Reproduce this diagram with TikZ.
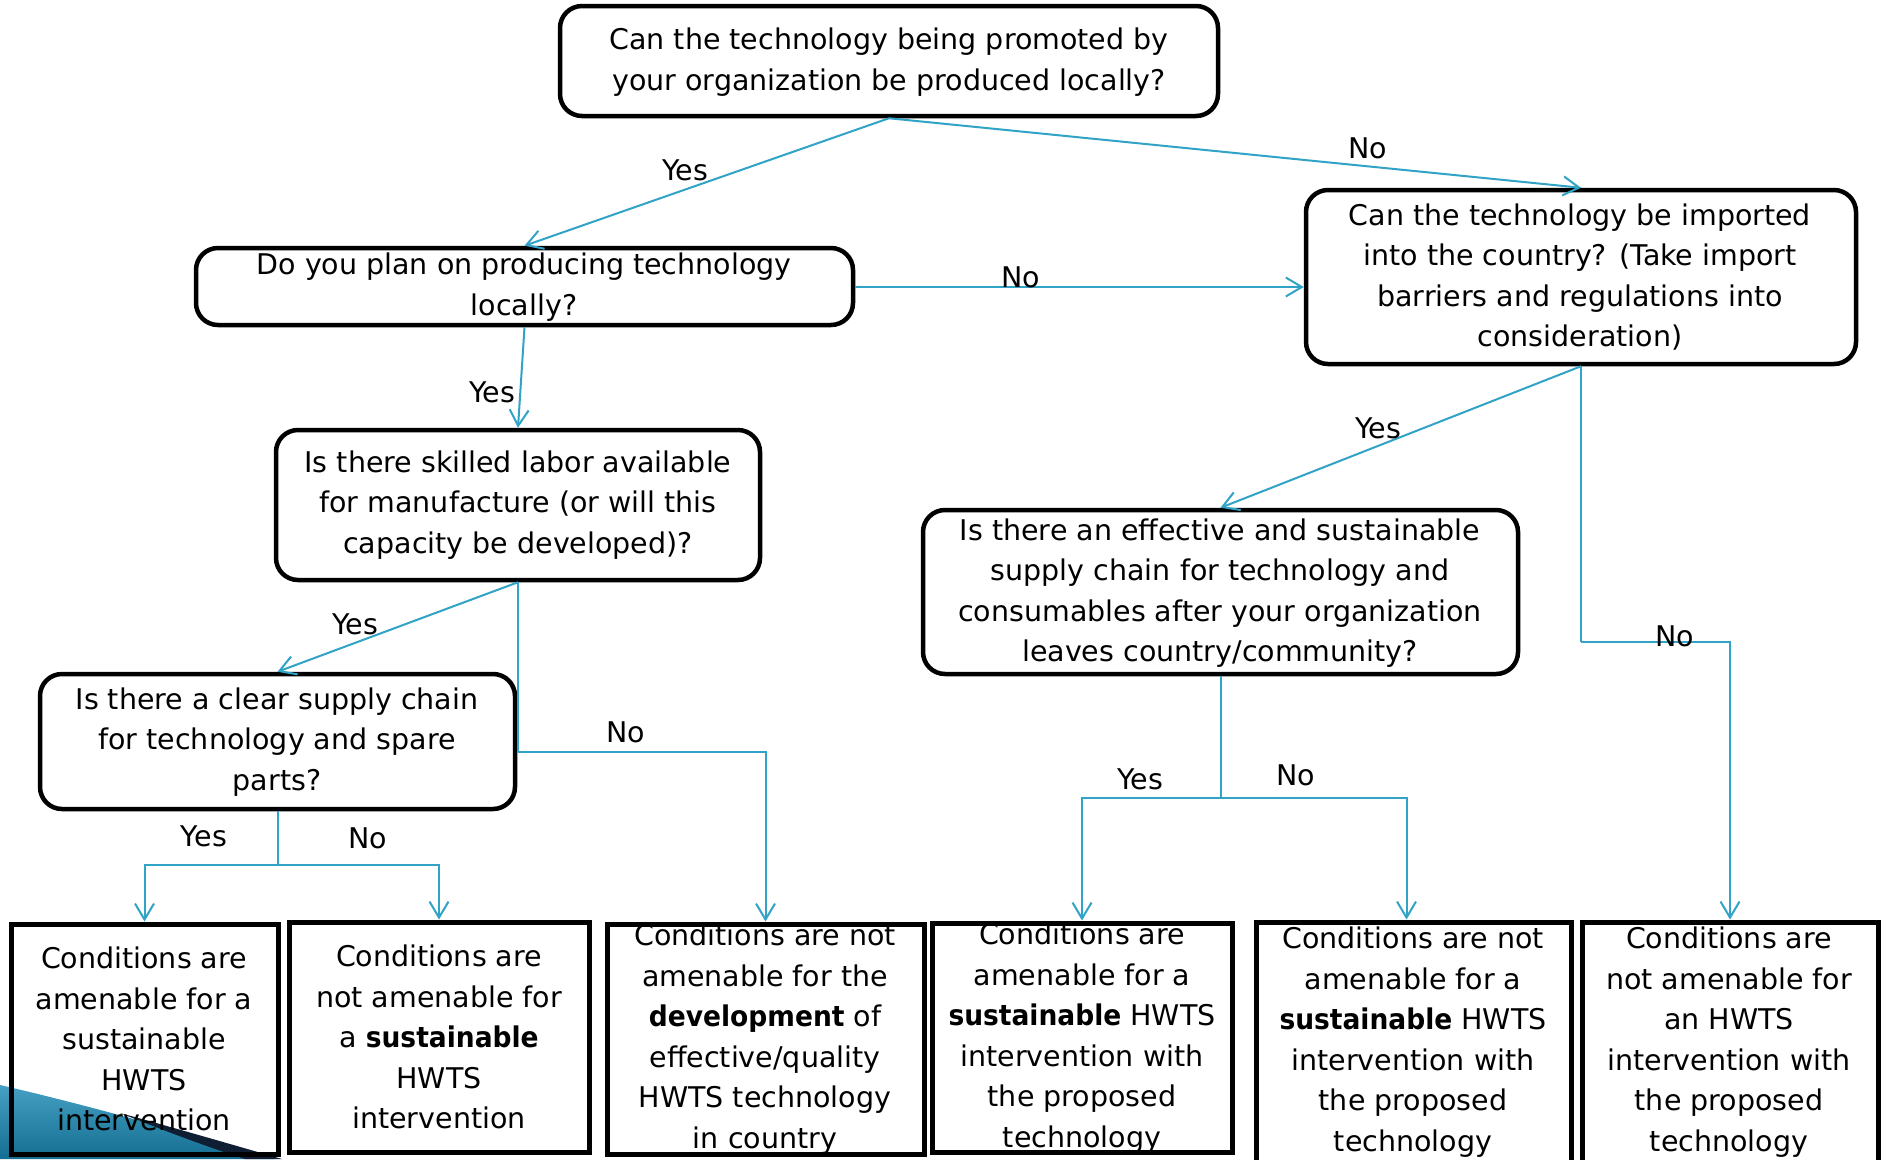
\documentclass[tikz,border=0pt]{standalone}
\usepackage{fontspec}
\setmainfont{DejaVu Sans}[BoldFeatures={FakeStretch=0.93}]
\usetikzlibrary{arrows.meta}
\definecolor{conn}{RGB}{48,163,198}
\definecolor{swA}{RGB}{70,160,195}
\definecolor{swB}{RGB}{20,110,145}
\definecolor{swDark}{RGB}{15,30,50}
\tikzset{
  qbox/.style={draw=black, line width=4.5pt, rounded corners=22pt, inner sep=0pt},
  abox/.style={draw=black, line width=5pt, inner sep=0pt},
  txt/.style={align=center, inner sep=0pt, font=\fontsize{28.5}{40.5}\selectfont},
  lbl/.style={inner sep=0pt, font=\fontsize{28.5}{32}\selectfont},
  arr/.style={draw=conn, line width=2pt, -{Straight Barb[length=16pt,width=19pt,line width=2pt]}},
  ln/.style={draw=conn, line width=2pt}
}
\begin{document}
\begin{tikzpicture}[x=1pt,y=-1pt]
\useasboundingbox (0,0) rectangle (1881,1159);
\clip (0,0) rectangle (1881,1159);
\fill[white] (0,0) rectangle (1881,1159);
% decorative swoosh
\shade[top color=swA, bottom color=swB] (0,1085) .. controls (100,1108) and (190,1135) .. (275,1159) -- (0,1159) -- cycle;
\fill[swDark] (120,1113) .. controls (175,1128) and (230,1144) .. (282,1159) -- (245,1159) .. controls (205,1146) and (165,1131) .. (120,1113) -- cycle;
% question boxes
\node[qbox, minimum width=658pt, minimum height=110pt] (top) at (889,61) {};
\node[qbox, minimum width=657pt, minimum height=77pt] (plan) at (524.5,286.5) {};
\node[qbox, minimum width=550pt, minimum height=174pt] (imp) at (1581,277) {};
\node[qbox, minimum width=484pt, minimum height=150pt] (skill) at (518,505) {};
\node[qbox, minimum width=595pt, minimum height=164pt] (eff) at (1220.5,592) {};
\node[qbox, minimum width=475pt, minimum height=135pt] (clear) at (277.5,741.5) {};
% answer boxes
\node[abox, minimum width=267pt, minimum height=230pt] (b1) at (144.5,1039) {};
\node[abox, minimum width=300pt, minimum height=230pt] (b2) at (439,1037) {};
\node[abox, minimum width=317pt, minimum height=230pt] (b3) at (765.5,1039) {};
\node[abox, minimum width=300pt, minimum height=229pt] (b4) at (1082,1037.5) {};
\node[abox, minimum width=315pt, minimum height=250pt] (b5) at (1413.5,1047) {};
\node[abox, minimum width=296pt, minimum height=250pt] (b6) at (1730,1047) {};
% texts
\node[txt] (ttop) at (889,62) {Can the technology being promoted by\\your organization be produced locally?};
\node[txt] (tplan) at (524,287) {Do you plan on producing technology\\locally?};
\node[txt] (timp) at (1580,277) {Can the technology be imported\\into the country? (Take import\\barriers and regulations into\\consideration)};
\node[txt] (tskill) at (518,505) {Is there skilled labor available\\for manufacture (or will this\\capacity be developed)?};
\node[txt] (teff) at (1220,593) {Is there an effective and sustainable\\supply chain for technology and\\consumables after your organization\\leaves country/community?};
\node[txt] (tclear) at (277,742) {Is there a clear supply chain\\for technology and spare\\parts?};
\node[txt] (tb1) at (144,1039) {Conditions are\\amenable for a\\sustainable\\HWTS\\intervention};
\node[txt] (tb2) at (439,1037) {Conditions are\\not amenable for\\a \textbf{sustainable}\\HWTS\\intervention};
\node[txt] (tb3) at (765,1039) {Conditions are not\\amenable for the\\\textbf{development} of\\effective/quality\\HWTS technology\\in country};
\node[txt] (tb4) at (1082,1038) {Conditions are\\amenable for a\\\textbf{sustainable} HWTS\\intervention with\\the proposed\\technology};
\node[txt] (tb5) at (1413,1042) {Conditions are not\\amenable for a\\\textbf{sustainable} HWTS\\intervention with\\the proposed\\technology};
\node[txt] (tb6) at (1729,1042) {Conditions are\\not amenable for\\an HWTS\\intervention with\\the proposed\\technology};
% junction coordinates
\coordinate (j1) at (518,752);
\coordinate (j2) at (277.5,865);
\coordinate (j3) at (1581,642);
\coordinate (j4) at (1220.5,798);
% connectors
\draw[arr] (top.south) -- (plan.north);
\draw[arr] (top.south) -- (imp.north);
\draw[arr] ([yshift=-0.5pt]plan.east) -- ([yshift=-0.5pt]plan.east -| imp.west);
\draw[arr] (plan.south) -- (skill.north);
\draw[arr] (skill.south) -- (clear.north);
\draw[ln] (skill.south) -- (j1);
\draw[arr] (j1) -| (b3.north);
\draw[ln] (clear.south) -- (j2);
\draw[arr] (j2) -| (b1.north);
\draw[arr] (j2) -| (b2.north);
\draw[arr] (imp.south) -- (eff.north);
\draw[ln] (imp.south) -- (j3);
\draw[arr] (j3) -| (b6.north);
\draw[ln] (eff.south) -- (j4);
\draw[arr] (j4) -| (b4.north);
\draw[arr] (j4) -| ([xshift=-7pt]b5.north);
% labels
\node[lbl] (l1) at (685,170) {Yes};
\node[lbl] (l2) at (1368,148) {No};
\node[lbl] (l3) at (1021,277) {No};
\node[lbl] (l4) at (492,392) {Yes};
\node[lbl] (l5) at (355,624) {Yes};
\node[lbl] (l6) at (626,732) {No};
\node[lbl] (l7) at (204,836) {Yes};
\node[lbl] (l8) at (368,838) {No};
\node[lbl] (l9) at (1378,428) {Yes};
\node[lbl] (l10) at (1675,636) {No};
\node[lbl] (l11) at (1140,779) {Yes};
\node[lbl] (l12) at (1296,775) {No};
\end{tikzpicture}
\end{document}
